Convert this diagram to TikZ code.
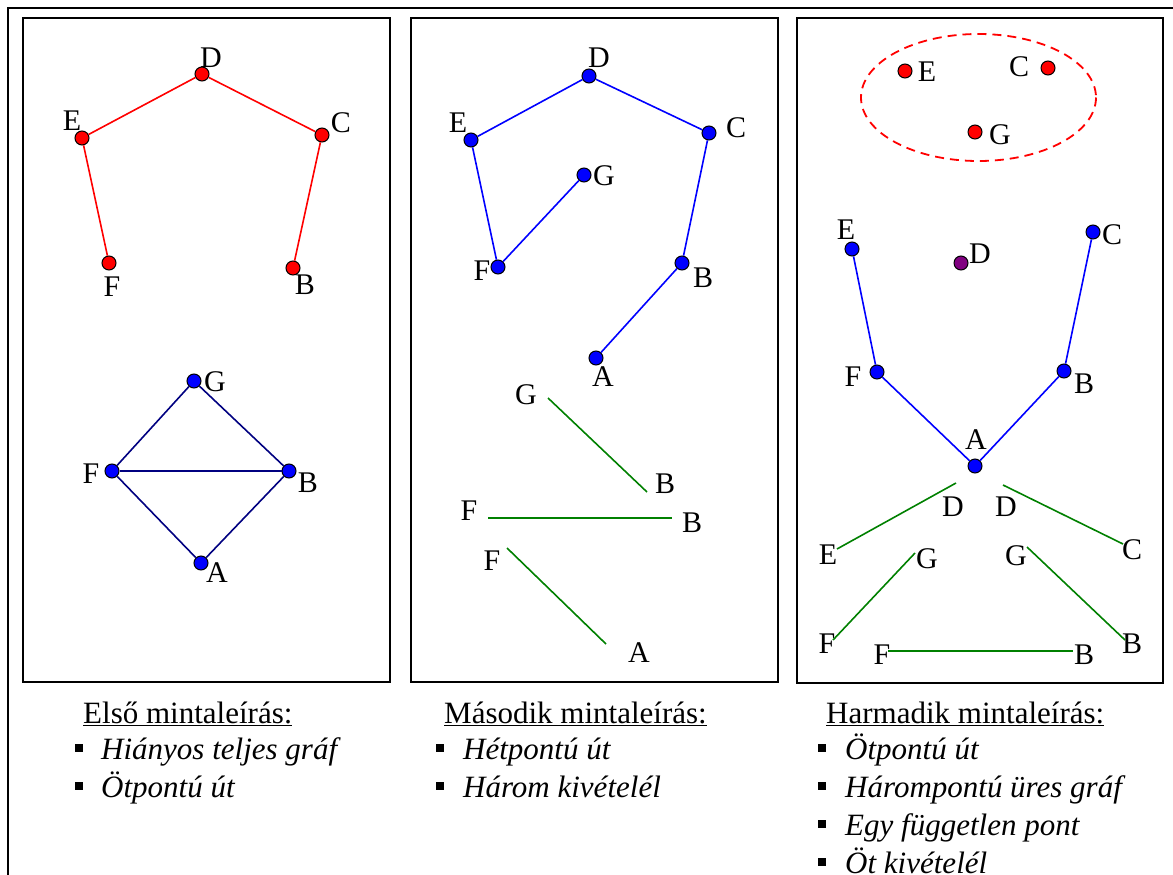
\documentclass[tikz,border=0pt]{standalone}
\usepackage{fontspec}
\setmainfont{Liberation Serif}
\definecolor{navyline}{RGB}{0,0,128}
\definecolor{greenline}{RGB}{0,128,0}
\definecolor{purpledot}{RGB}{128,0,128}
\begin{document}
\begin{tikzpicture}[x=1pt, y=-1pt,
  box/.style={draw, line width=1.5pt},
  dot/.style={circle, draw=black, line width=1pt, inner sep=0pt, minimum size=14pt},
  lbl/.style={inner sep=0pt, font=\fontsize{30}{36}\selectfont},
  captxt/.style={inner sep=0pt, anchor=base west, font=\fontsize{31}{37}\selectfont},
  item/.style={inner sep=0pt, anchor=base west, font=\fontsize{31}{37}\selectfont\itshape},
  bul/.style={fill=black, inner sep=0pt, minimum size=8.5pt},
  redge/.style={red, line width=1.6pt}, bedge/.style={blue, line width=1.6pt},
  nedge/.style={navyline, line width=1.6pt}, gedge/.style={greenline, line width=1.6pt}]
\useasboundingbox (0,0) rectangle (1173,875);
\draw[line width=2pt] (7.5,8) rectangle (1190,900);
\draw[box] (23,18) rectangle (390,682);
\draw[box] (411,18) rectangle (778,682);
\draw[box] (797,18) rectangle (1163,683);
% first sample: five point path
\node[dot, fill=red] (aD) at (202,74) {};
\node[dot, fill=red] (aE) at (82,138) {};
\node[dot, fill=red] (aC) at (322,135) {};
\node[dot, fill=red] (aF) at (109,263) {};
\node[dot, fill=red] (aB) at (293,268) {};
\node[lbl] (laD) at (211,58) {D};\node[lbl] (laE) at (72,121) {E};\node[lbl] (laC) at (341,123) {C};\node[lbl] (laF) at (112,287) {F};\node[lbl] (laB) at (305,285) {B};
\draw[redge] (aF) -- (aE);\draw[redge] (aE) -- (aD);\draw[redge] (aD) -- (aC);\draw[redge] (aC) -- (aB);
% first sample: incomplete complete graph
\node[dot, fill=blue] (bG) at (194,381) {};
\node[dot, fill=blue] (bF) at (112,471) {};
\node[dot, fill=blue] (bB) at (289,471) {};
\node[dot, fill=blue] (bA) at (201,563) {};
\node[lbl] (lbG) at (215,382) {G};\node[lbl] (lbF) at (91,474) {F};\node[lbl] (lbB) at (308,483) {B};\node[lbl] (lbA) at (217,573) {A};
\draw[nedge] (bG) -- (bF);\draw[nedge] (bG) -- (bB);\draw[nedge] (bF) -- (bB);\draw[nedge] (bF) -- (bA);\draw[nedge] (bB) -- (bA);
% second sample: seven point path
\node[dot, fill=blue] (cD) at (589,76) {};
\node[dot, fill=blue] (cE) at (471,140) {};
\node[dot, fill=blue] (cC) at (709,133) {};
\node[dot, fill=blue] (cG) at (584,175) {};
\node[dot, fill=blue] (cF) at (498,267) {};
\node[dot, fill=blue] (cB) at (682,263) {};
\node[dot, fill=blue] (cA) at (596,358) {};
\node[lbl] (lcD) at (599,58) {D};\node[lbl] (lcE) at (458,123) {E};\node[lbl] (lcC) at (736,128) {C};\node[lbl] (lcG) at (604,176) {G};
\node[lbl] (lcF) at (482,271) {F};\node[lbl] (lcB) at (703,278) {B};\node[lbl] (lcA) at (603,377) {A};
\draw[bedge] (cG) -- (cF);\draw[bedge] (cF) -- (cE);\draw[bedge] (cE) -- (cD);\draw[bedge] (cD) -- (cC);\draw[bedge] (cC) -- (cB);\draw[bedge] (cB) -- (cA);
% second sample: missing edges
\coordinate (p1s) at (548,398);\coordinate (p1e) at (647,492);
\coordinate (p2s) at (488,518);\coordinate (p2e) at (672,518);
\coordinate (p3s) at (507,548);\coordinate (p3e) at (606,644);
\node[lbl] (lp1s) at (526,395) {G};\node[lbl] (lp1e) at (665,484) {B};
\node[lbl] (lp2s) at (469,511) {F};\node[lbl] (lp2e) at (692,523) {B};
\node[lbl] (lp3s) at (492,561) {F};\node[lbl] (lp3e) at (639,653) {A};
\draw[gedge] (p1s) -- (p1e);\draw[gedge] (p2s) -- (p2e);\draw[gedge] (p3s) -- (p3e);
% third sample: empty graph on three points
\draw[red, line width=1.8pt, dash pattern=on 9pt off 6pt] (978.5,97.5) ellipse [x radius=117.5, y radius=63.5];
\node[dot, fill=red] (eE) at (905,71) {};
\node[dot, fill=red] (eC) at (1048,68) {};
\node[dot, fill=red] (eG) at (975,132) {};
\node[lbl] (leE) at (927,72) {E};\node[lbl] (leC) at (1019,67) {C};\node[lbl] (leG) at (1000,135) {G};
\node[dot, fill=purpledot] (dD) at (961,263) {};
\node[lbl] (ldD) at (980,254) {D};
% third sample: five point path
\node[dot, fill=blue] (fE) at (852,249) {};
\node[dot, fill=blue] (fF) at (877,372) {};
\node[dot, fill=blue] (fA) at (975,466) {};
\node[dot, fill=blue] (fB) at (1064,371) {};
\node[dot, fill=blue] (fC) at (1093,232) {};
\node[lbl] (lfE) at (846,230) {E};\node[lbl] (lfF) at (853,377) {F};\node[lbl] (lfA) at (976,440) {A};\node[lbl] (lfB) at (1084,384) {B};\node[lbl] (lfC) at (1112,235) {C};
\draw[bedge] (fE) -- (fF);\draw[bedge] (fF) -- (fA);\draw[bedge] (fA) -- (fB);\draw[bedge] (fB) -- (fC);
% third sample: missing edges
\coordinate (q1s) at (956,483);\coordinate (q1e) at (837,549);
\coordinate (q2s) at (1003,485);\coordinate (q2e) at (1123,544);
\coordinate (q3s) at (915,553);\coordinate (q3e) at (833,640);
\coordinate (q4s) at (1027,547);\coordinate (q4e) at (1125,640);
\coordinate (q5s) at (888,651);\coordinate (q5e) at (1073,651);
\node[lbl] (lq1s) at (953,507) {D};\node[lbl] (lq1e) at (828,555) {E};
\node[lbl] (lq2s) at (1006,507) {D};\node[lbl] (lq2e) at (1132,550) {C};
\node[lbl] (lq3s) at (927,559) {G};\node[lbl] (lq3e) at (827,644) {F};
\node[lbl] (lq4s) at (1016,556) {G};\node[lbl] (lq4e) at (1132,644) {B};
\node[lbl] (lq5s) at (882,655) {F};\node[lbl] (lq5e) at (1084,655) {B};
\draw[gedge] (q1s) -- (q1e);\draw[gedge] (q2s) -- (q2e);\draw[gedge] (q3s) -- (q3e);\draw[gedge] (q4s) -- (q4e);\draw[gedge] (q5s) -- (q5e);
% captions
\node[captxt] (cap1) at (83,723) {\underline{Első mintaleírás:}};
\node[captxt] (cap2) at (444,723) {\underline{Második mintaleírás:}};
\node[captxt] (cap3) at (826,723) {\underline{Harmadik mintaleírás:}};
\node[bul] (u11) at (79,748) {};\node[item] (t11) at (101,759) {Hiányos teljes gráf};
\node[bul] (u12) at (79,786) {};\node[item] (t12) at (101,797) {Ötpontú út};
\node[bul] (u21) at (440,748) {};\node[item] (t21) at (463,759) {Hétpontú út};
\node[bul] (u22) at (440,786) {};\node[item] (t22) at (463,797) {Három kivételél};
\node[bul] (u31) at (822,748) {};\node[item] (t31) at (845,759) {Ötpontú út};
\node[bul] (u32) at (822,786) {};\node[item] (t32) at (845,797) {Hárompontú üres gráf};
\node[bul] (u33) at (822,824) {};\node[item] (t33) at (845,835) {Egy független pont};
\node[bul] (u34) at (822,862) {};\node[item] (t34) at (845,873) {Öt kivételél};
\end{tikzpicture}
\end{document}
